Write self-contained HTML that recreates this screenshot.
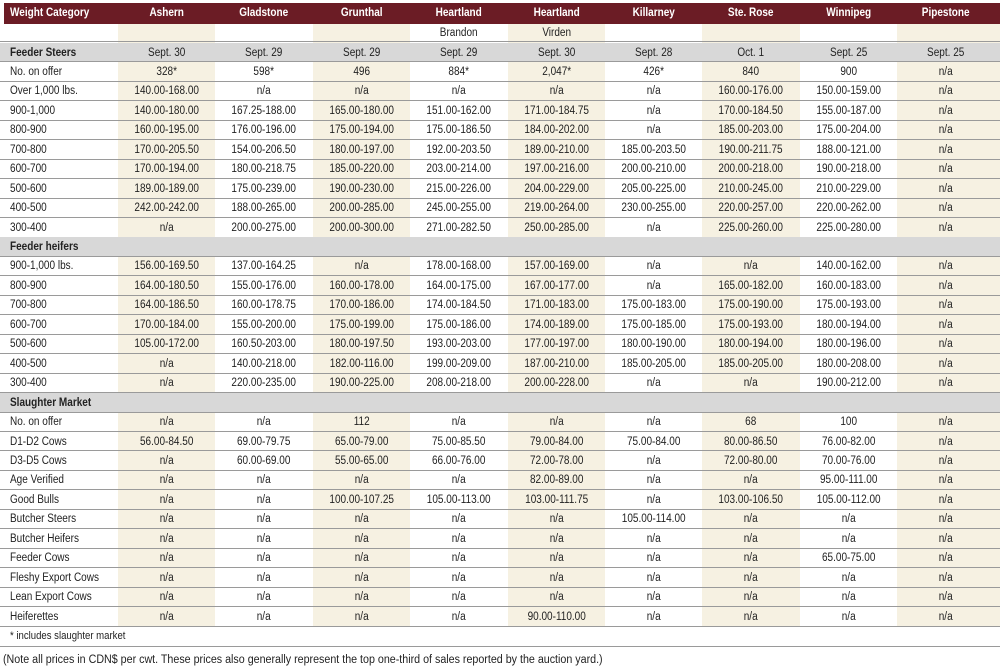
<!DOCTYPE html>
<html><head><meta charset="utf-8">
<style>
body{margin:0;width:1000px;height:669px;background:#fff;font-family:"Liberation Sans",sans-serif;font-size:11.5px;color:#222;position:relative;overflow:hidden}
.c{position:absolute;text-align:center;box-sizing:border-box;white-space:nowrap;transform:scaleX(0.87);transform-origin:50% 50%}
.c.l{transform-origin:0 50%;text-align:left}
.shade{position:absolute;background:#f6f1e2}
.line{position:absolute;left:0;width:1000px;height:1px;background:#9a9a9a}
.hdr{position:absolute;left:4px;top:3px;width:996px;height:21px;background:#6b1c25}
.sec{position:absolute;left:0;width:1000px;background:#d8d8d8}
</style></head><body>
<div class="hdr"></div>
<div id="root"></div>
<script>
const cols=["Ashern","Gladstone","Grunthal","Heartland","Heartland","Killarney","Ste. Rose","Winnipeg","Pipestone"];
const sub=["","","","Brandon","Virden","","","",""];
const rows=[
["S","Feeder Steers","Sept. 30","Sept. 29","Sept. 29","Sept. 29","Sept. 30","Sept. 28","Oct. 1","Sept. 25","Sept. 25"],
["R","No. on offer","328*","598*","496","884*","2,047*","426*","840","900","n/a"],
["R","Over 1,000 lbs.","140.00-168.00","n/a","n/a","n/a","n/a","n/a","160.00-176.00","150.00-159.00","n/a"],
["R","900-1,000","140.00-180.00","167.25-188.00","165.00-180.00","151.00-162.00","171.00-184.75","n/a","170.00-184.50","155.00-187.00","n/a"],
["R","800-900","160.00-195.00","176.00-196.00","175.00-194.00","175.00-186.50","184.00-202.00","n/a","185.00-203.00","175.00-204.00","n/a"],
["R","700-800","170.00-205.50","154.00-206.50","180.00-197.00","192.00-203.50","189.00-210.00","185.00-203.50","190.00-211.75","188.00-121.00","n/a"],
["R","600-700","170.00-194.00","180.00-218.75","185.00-220.00","203.00-214.00","197.00-216.00","200.00-210.00","200.00-218.00","190.00-218.00","n/a"],
["R","500-600","189.00-189.00","175.00-239.00","190.00-230.00","215.00-226.00","204.00-229.00","205.00-225.00","210.00-245.00","210.00-229.00","n/a"],
["R","400-500","242.00-242.00","188.00-265.00","200.00-285.00","245.00-255.00","219.00-264.00","230.00-255.00","220.00-257.00","220.00-262.00","n/a"],
["R","300-400","n/a","200.00-275.00","200.00-300.00","271.00-282.50","250.00-285.00","n/a","225.00-260.00","225.00-280.00","n/a"],
["S","Feeder heifers","","","","","","","","",""],
["R","900-1,000 lbs.","156.00-169.50","137.00-164.25","n/a","178.00-168.00","157.00-169.00","n/a","n/a","140.00-162.00","n/a"],
["R","800-900","164.00-180.50","155.00-176.00","160.00-178.00","164.00-175.00","167.00-177.00","n/a","165.00-182.00","160.00-183.00","n/a"],
["R","700-800","164.00-186.50","160.00-178.75","170.00-186.00","174.00-184.50","171.00-183.00","175.00-183.00","175.00-190.00","175.00-193.00","n/a"],
["R","600-700","170.00-184.00","155.00-200.00","175.00-199.00","175.00-186.00","174.00-189.00","175.00-185.00","175.00-193.00","180.00-194.00","n/a"],
["R","500-600","105.00-172.00","160.50-203.00","180.00-197.50","193.00-203.00","177.00-197.00","180.00-190.00","180.00-194.00","180.00-196.00","n/a"],
["R","400-500","n/a","140.00-218.00","182.00-116.00","199.00-209.00","187.00-210.00","185.00-205.00","185.00-205.00","180.00-208.00","n/a"],
["R","300-400","n/a","220.00-235.00","190.00-225.00","208.00-218.00","200.00-228.00","n/a","n/a","190.00-212.00","n/a"],
["S","Slaughter Market","","","","","","","","",""],
["R","No. on offer","n/a","n/a","112","n/a","n/a","n/a","68","100","n/a"],
["R","D1-D2 Cows","56.00-84.50","69.00-79.75","65.00-79.00","75.00-85.50","79.00-84.00","75.00-84.00","80.00-86.50","76.00-82.00","n/a"],
["R","D3-D5 Cows","n/a","60.00-69.00","55.00-65.00","66.00-76.00","72.00-78.00","n/a","72.00-80.00","70.00-76.00","n/a"],
["R","Age Verified","n/a","n/a","n/a","n/a","82.00-89.00","n/a","n/a","95.00-111.00","n/a"],
["R","Good Bulls","n/a","n/a","100.00-107.25","105.00-113.00","103.00-111.75","n/a","103.00-106.50","105.00-112.00","n/a"],
["R","Butcher Steers","n/a","n/a","n/a","n/a","n/a","105.00-114.00","n/a","n/a","n/a"],
["R","Butcher Heifers","n/a","n/a","n/a","n/a","n/a","n/a","n/a","n/a","n/a"],
["R","Feeder Cows","n/a","n/a","n/a","n/a","n/a","n/a","n/a","65.00-75.00","n/a"],
["R","Fleshy Export Cows","n/a","n/a","n/a","n/a","n/a","n/a","n/a","n/a","n/a"],
["R","Lean Export Cows","n/a","n/a","n/a","n/a","n/a","n/a","n/a","n/a","n/a"],
["R","Heiferettes","n/a","n/a","n/a","n/a","90.00-110.00","n/a","n/a","n/a","n/a"]
];
const root=document.getElementById('root');
const X0=118,CW=97.4,RH=19.45,TOP=42.5;
function colX(i){return X0+i*CW;}
function add(cls,st,txt){const d=document.createElement('div');d.className=cls;Object.assign(d.style,st);if(txt!==undefined)d.textContent=txt;root.appendChild(d);return d;}
[0,2,4,6,8].forEach(i=>{
 const d=add('shade',{left:colX(i)+'px',top:'24px',width:(i==8?1000-colX(i):CW)+'px',height:(TOP+rows.length*RH-24)+'px'});
 
 
});
let h=add('c l',{left:'10px',top:'7px',color:'#fff',fontWeight:'bold'},'Weight Category');


cols.forEach((c,i)=>{
 const d=add('c',{left:colX(i)+'px',width:CW+'px',top:'7px',color:'#fff',fontWeight:'bold'},c);
 
 
 if(sub[i]){const s=add('c',{left:colX(i)+'px',width:CW+'px',top:'27px'},sub[i]);
 
 }
});
let l0=add('line',{top:'41px'});


rows.forEach((r,k)=>{
 const y=TOP+k*RH;
 if(r[0]=='S'){const s=add('sec',{top:y+'px',height:RH+'px'});
  
  }
 const lab=add('c l',{left:'10px',top:(y+4)+'px',fontWeight:r[0]=='S'?'bold':'normal'},r[1]);
 
 
 for(let i=0;i<9;i++){if(!r[i+2])continue;
  const d=add('c',{left:colX(i)+'px',width:CW+'px',top:(y+4)+'px'},r[i+2]);
  
  }
 const ln=add('line',{top:(y+RH-0.5)+'px'});
 
 
});
const fy=TOP+rows.length*RH;
const f=add('c l',{left:'10px',top:(fy+4)+'px',fontSize:'11px'},'* includes slaughter market');


const fl=add('line',{top:(fy+RH+1)+'px'});


const n=add('c l',{left:'3px',top:(fy+RH+9)+'px',fontSize:'11.5px',transform:'scaleX(0.93)'},'(Note all prices in CDN$ per cwt. These prices also generally represent the top one-third of sales reported by the auction yard.)');


</script>
</body></html>
